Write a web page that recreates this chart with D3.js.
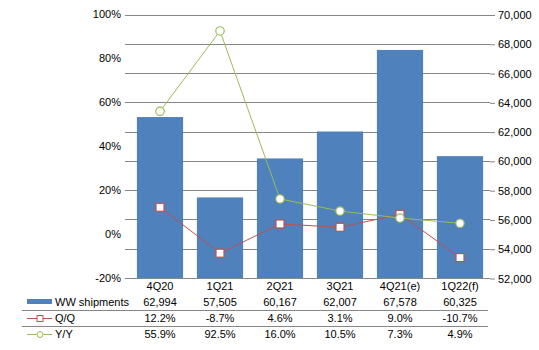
<!DOCTYPE html>
<html>
<head>
<meta charset="utf-8">
<script src="https://cdn.jsdelivr.net/npm/d3@7"></script>
<style>
  body { margin: 0; background: #fff; }
  text { font-family: "Liberation Sans", Arial, sans-serif; font-size: 11px; fill: #000; }
</style>
</head>
<body>
<div id="chart"></div>
<script>
const quarters = ["4Q20", "1Q21", "2Q21", "3Q21", "4Q21(e)", "1Q22(f)"];
const shipments = [62994, 57505, 60167, 62007, 67578, 60325];
const qoq = [12.2, -8.7, 4.6, 3.1, 9.0, -10.7];
const yoy = [55.9, 92.5, 16.0, 10.5, 7.3, 4.9];
const pctTicks = [-20, 0, 20, 40, 60, 80, 100];
const unitTicks = [52000, 54000, 56000, 58000, 60000, 62000, 64000, 66000, 68000, 70000];

const W = 539, H = 350;
const plot = { left: 130, right: 490, top: 14.5, bottom: 278 };
const blue = "#4F81BD", red = "#C0504D", green = "#9BBB59", grid = "#868686";

const svg = d3.select("#chart").append("svg")
    .attr("width", W)
    .attr("height", H);

const x = d3.scaleBand()
    .domain(quarters)
    .range([plot.left, plot.right])
    .paddingInner(0.23)
    .paddingOuter(0.115);

const yPct = d3.scaleLinear().domain([-20, 100]).range([plot.bottom, plot.top]);
const yUnits = d3.scaleLinear().domain([52000, 70000]).range([plot.bottom, plot.top]);

const cx = q => x(q) + x.bandwidth() / 2;

// gridlines, one per right-axis step
svg.append("g")
    .selectAll("line")
    .data(unitTicks)
    .enter().append("line")
    .attr("x1", plot.left)
    .attr("x2", plot.right)
    .attr("y1", d => Math.round(yUnits(d)) + 0.5)
    .attr("y2", d => Math.round(yUnits(d)) + 0.5)
    .attr("stroke", grid)
    .attr("stroke-width", 1);

// right axis
const rightAxis = svg.append("g")
    .attr("transform", `translate(${plot.right},0.5)`)
    .call(d3.axisRight(yUnits).tickValues(unitTicks).tickSize(5).tickPadding(3)
        .tickFormat(d3.format(",")));
rightAxis.select(".domain").remove();
rightAxis.selectAll("line").attr("stroke", grid);
rightAxis.selectAll("text").style("font-size", "11px").attr("fill", "#000");

// left axis: tick marks sit on the gridlines, labels every 20%
svg.append("g")
    .selectAll("line")
    .data(unitTicks)
    .enter().append("line")
    .attr("x1", plot.left - 5)
    .attr("x2", plot.left)
    .attr("y1", d => Math.round(yUnits(d)) + 0.5)
    .attr("y2", d => Math.round(yUnits(d)) + 0.5)
    .attr("stroke", grid);

svg.append("g")
    .selectAll("text")
    .data(pctTicks)
    .enter().append("text")
    .attr("x", plot.left - 9)
    .attr("y", d => yPct(d))
    .attr("dy", "0.35em")
    .attr("text-anchor", "end")
    .text(d => d + "%");

// bars
svg.append("g")
    .selectAll("rect")
    .data(quarters)
    .enter().append("rect")
    .attr("x", d => x(d))
    .attr("width", x.bandwidth())
    .attr("y", (d, i) => yUnits(shipments[i]))
    .attr("height", (d, i) => plot.bottom - yUnits(shipments[i]))
    .attr("fill", blue);

const pctLine = d3.line()
    .x(d => cx(d.q))
    .y(d => yPct(d.v));

const qoqData = quarters.map((q, i) => ({ q: q, v: qoq[i] }));
const yoyData = quarters.map((q, i) => ({ q: q, v: yoy[i] }));

// Q/Q line
svg.append("path")
    .datum(qoqData)
    .attr("d", pctLine)
    .attr("fill", "none")
    .attr("stroke", red)
    .attr("stroke-width", 1);
svg.append("g")
    .selectAll("rect")
    .data(qoqData)
    .enter().append("rect")
    .attr("x", d => cx(d.q) - 4)
    .attr("y", d => yPct(d.v) - 4)
    .attr("width", 8)
    .attr("height", 8)
    .attr("fill", "#fff")
    .attr("stroke", red)
    .attr("stroke-width", 1.2);

// Y/Y line
svg.append("path")
    .datum(yoyData)
    .attr("d", pctLine)
    .attr("fill", "none")
    .attr("stroke", green)
    .attr("stroke-width", 1);
svg.append("g")
    .selectAll("circle")
    .data(yoyData)
    .enter().append("circle")
    .attr("cx", d => cx(d.q))
    .attr("cy", d => yPct(d.v))
    .attr("r", 4.2)
    .attr("fill", "#fff")
    .attr("stroke", green)
    .attr("stroke-width", 1.2);

// data table under the plot
const rowY = { cat: 290, ww: 306, qq: 322, yy: 338 };

svg.append("g")
    .selectAll("text")
    .data(quarters)
    .enter().append("text")
    .attr("x", d => cx(d))
    .attr("y", rowY.cat)
    .attr("text-anchor", "middle")
    .text(d => d);

const rows = [
    { key: "ww", vals: shipments.map(d3.format(",")) },
    { key: "qq", vals: qoq.map(v => (v < 0 ? "-" : "") + Math.abs(v).toFixed(1) + "%") },
    { key: "yy", vals: yoy.map(v => v.toFixed(1) + "%") }
];
rows.forEach(r => {
    svg.append("g")
        .selectAll("text")
        .data(r.vals)
        .enter().append("text")
        .attr("x", (d, i) => cx(quarters[i]))
        .attr("y", rowY[r.key])
        .attr("text-anchor", "middle")
        .text(d => d);
});

// row separators
[310.5, 326.5].forEach(yy => {
    svg.append("line")
        .attr("x1", 22).attr("x2", 488)
        .attr("y1", yy).attr("y2", yy)
        .attr("stroke", grid);
});

// legend keys
const keyX0 = 27, keyX1 = 52, labelX = 55;
svg.append("rect")
    .attr("x", keyX0).attr("y", 299)
    .attr("width", keyX1 - keyX0).attr("height", 5)
    .attr("fill", blue);
svg.append("text").attr("x", labelX).attr("y", rowY.ww).text("WW shipments");

svg.append("line")
    .attr("x1", keyX0).attr("x2", keyX1)
    .attr("y1", 318.5).attr("y2", 318.5)
    .attr("stroke", red);
svg.append("rect")
    .attr("x", 37).attr("y", 315.5).attr("width", 6).attr("height", 6)
    .attr("fill", "#fff").attr("stroke", red);
svg.append("text").attr("x", labelX).attr("y", rowY.qq).text("Q/Q");

svg.append("line")
    .attr("x1", keyX0).attr("x2", keyX1)
    .attr("y1", 334.5).attr("y2", 334.5)
    .attr("stroke", green);
svg.append("circle")
    .attr("cx", 40).attr("cy", 334.5).attr("r", 3)
    .attr("fill", "#fff").attr("stroke", green);
svg.append("text").attr("x", labelX).attr("y", rowY.yy).text("Y/Y");
</script>
</body>
</html>
